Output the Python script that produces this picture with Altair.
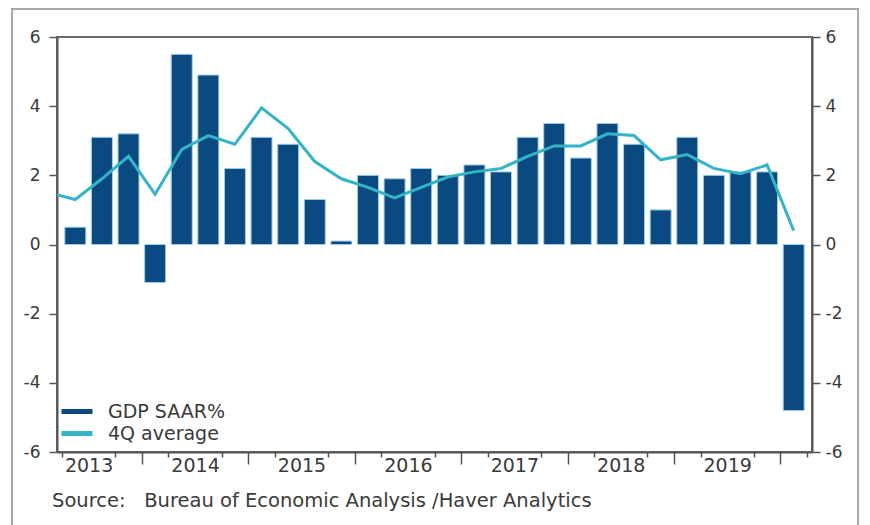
import altair as alt
import pandas as pd

# ---- data ----
quarters = ["2013Q2", "2013Q3", "2013Q4",
            "2014Q1", "2014Q2", "2014Q3", "2014Q4",
            "2015Q1", "2015Q2", "2015Q3", "2015Q4",
            "2016Q1", "2016Q2", "2016Q3", "2016Q4",
            "2017Q1", "2017Q2", "2017Q3", "2017Q4",
            "2018Q1", "2018Q2", "2018Q3", "2018Q4",
            "2019Q1", "2019Q2", "2019Q3", "2019Q4",
            "2020Q1"]
gdp_saar = [0.5, 3.1, 3.2,
            -1.1, 5.5, 4.9, 2.2,
            3.1, 2.9, 1.3, 0.1,
            2.0, 1.9, 2.2, 2.0,
            2.3, 2.1, 3.1, 3.5,
            2.5, 3.5, 2.9, 1.0,
            3.1, 2.0, 2.1, 2.1,
            -4.8]
avg_quarters = ["2013Q1"] + quarters
avg_4q = [1.5, 1.3, 1.9, 2.55,
          1.45, 2.75, 3.15, 2.9,
          3.95, 3.35, 2.4, 1.9,
          1.65, 1.35, 1.65, 1.95,
          2.1, 2.2, 2.55, 2.85,
          2.85, 3.2, 3.15, 2.45,
          2.6, 2.2, 2.05, 2.3,
          0.4]
y_ticks = [-6, -4, -2, 0, 2, 4, 6]
first_year = 2013
source_text = ["Source:\u00a0\u00a0\u00a0Bureau of Economic Analysis /Haver Analytics"]
series_names = ["GDP SAAR%", "4Q average"]

BLUE = "#0b4a80"
TEAL = "#35b4c6"
GREY = "#555555"
TXT = "#3a3a3a"
FONT = "DejaVu Sans"

W, H = 755, 415

bars_df = pd.DataFrame({"quarter": quarters, "value": gdp_saar,
                        "series": series_names[0]})
bars_df["idx"] = range(len(quarters))
avg_df = pd.DataFrame({"quarter": avg_quarters, "value": avg_4q,
                       "series": series_names[1]})
avg_df["idx"] = range(-1, len(quarters))

n = len(quarters)
xscale = alt.Scale(domain=[0, n], nice=False, zero=False)
yscale = alt.Scale(domain=[-6, 6], nice=False)

x_axis = alt.Axis(
    values=list(range(0, n + 1)),
    labelExpr=f"datum.value % 4 == 1 ? toString({first_year} + (datum.value - 1) / 4) : ''",
    tickSize={"condition": {"test": "datum.value % 4 == 3", "value": 12}, "value": 5},
    tickOpacity={"condition": {"test": "datum.value % 4 == 1", "value": 0}, "value": 1},
    labelFont=FONT, labelFontSize=19, labelColor=TXT, labelPadding=-1,
    labelFlush=False, labelOverlap=False,
    domainColor=GREY, domainWidth=2, tickColor=GREY, tickWidth=1.5,
    grid=False, title=None,
)

def y_axis(orient, pad):
    return alt.Axis(orient=orient, values=y_ticks, labelExpr="datum.value + ''",
                    tickSize=8, tickColor=GREY, tickWidth=1.5,
                    domainColor=GREY, domainWidth=2,
                    labelFont=FONT, labelFontSize=17, labelColor=TXT,
                    labelPadding=pad, grid=False, title=None)

legend = alt.Legend(
    orient="none", legendX=2, legendY=364, title=None,
    symbolType="stroke", symbolSize=961, symbolStrokeWidth=5,
    labelFont=FONT, labelFontSize=19, labelColor=TXT, labelOffset=13,
    clipHeight=21, rowPadding=1, padding=0)

color = alt.Scale(domain=series_names, range=[BLUE, TEAL])

bars = alt.Chart(bars_df).transform_calculate(
    pos="datum.idx + 0.5"
).mark_bar(width=21, stroke="#9fd0e6", strokeWidth=1).encode(
    x=alt.X("pos:Q", scale=xscale, axis=x_axis),
    y=alt.Y("value:Q", scale=yscale, axis=y_axis("left", 9)),
    color=alt.Color("series:N", scale=color, legend=legend),
)

line = alt.Chart(avg_df).transform_calculate(
    pos="datum.idx + 0.5"
).mark_line(strokeWidth=3, clip=True).encode(
    x=alt.X("pos:Q", scale=xscale, axis=x_axis),
    y=alt.Y("value:Q", scale=yscale, axis=y_axis("right", 5)),
    color=alt.Color("series:N", scale=color, legend=legend),
)

frame = alt.Chart(pd.DataFrame({"f": [0]})).mark_rect(
    filled=False, stroke="#a8a8a8", strokeWidth=2, clip=False
).encode(
    x=alt.value(-45), x2=alt.value(W + 46),
    y=alt.value(-28), y2=alt.value(H + 90),
)

source = alt.Chart(pd.DataFrame({"t": source_text})).mark_text(
    align="left", baseline="alphabetic", font=FONT, fontSize=19.5, color=TXT
).encode(text="t:N", x=alt.value(-5), y=alt.value(H + 55))

chart = alt.layer(frame, bars, line, source).resolve_axis(y="independent").properties(
    width=W, height=H,
    autosize=alt.AutoSizeParams(type="none"),
    padding={"left": 49, "top": 29, "right": 50, "bottom": 73},
).configure_view(stroke="#6a6a6a", strokeWidth=2)

chart.save("out.html", embed_options={"renderer": "svg", "actions": False})
